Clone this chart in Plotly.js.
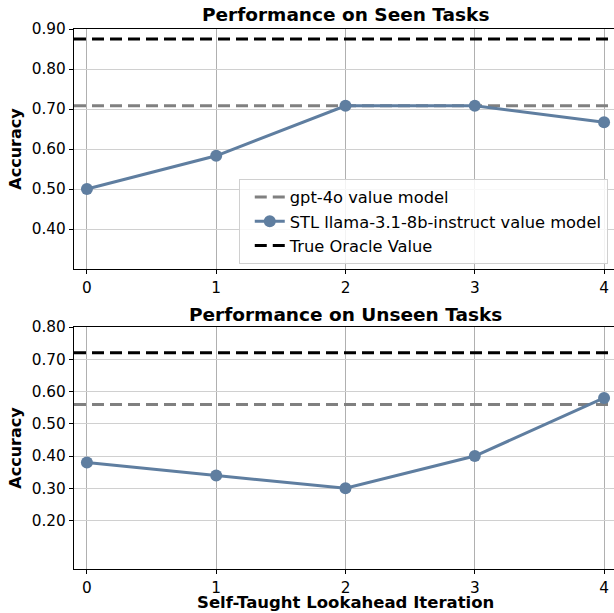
<!DOCTYPE html>
<html><head><meta charset="utf-8">
<script src="https://cdn.plot.ly/plotly-3.0.1.min.js"></script>
<style>html,body{margin:0;padding:0;overflow:hidden;width:614px;height:613px;background:#fff}</style>
</head><body><div id="chart"></div>
<script>
const iterations = [0, 1, 2, 3, 4];
const seenSTL = [0.500, 0.583, 0.708, 0.708, 0.667];
const seenGPT = 0.708;
const seenOracle = 0.875;
const unseenSTL = [0.38, 0.34, 0.30, 0.40, 0.58];
const unseenGPT = 0.56;
const unseenOracle = 0.72;
const xRange = [-0.1, 4.1];
const seenTicks = [0.4, 0.5, 0.6, 0.7, 0.8, 0.9];
const unseenTicks = [0.2, 0.3, 0.4, 0.5, 0.6, 0.7, 0.8];

const FONT = 'DejaVu Sans';
const BLUE = '#5f7ea0';
const GRAY = '#808080';

function hline(val, color, name, xa, ya, show) {
  return {x: xRange, y: [val, val], xaxis: xa, yaxis: ya, mode: 'lines', name: name,
    showlegend: show, legendgroup: name, line: {color: color, width: 3, dash: '12px,6px'}, hoverinfo: 'skip'};
}
function stl(vals, xa, ya, show) {
  return {x: iterations, y: vals, xaxis: xa, yaxis: ya, mode: 'lines+markers',
    name: 'STL llama-3.1-8b-instruct value model', legendgroup: 'stl', showlegend: show,
    line: {color: BLUE, width: 3}, marker: {color: BLUE, size: 12}};
}
const data = [
  hline(seenGPT, GRAY, 'gpt-4o value model', 'x', 'y', true),
  stl(seenSTL, 'x', 'y', true),
  hline(seenOracle, '#000', 'True Oracle Value', 'x', 'y', true),
  hline(unseenGPT, GRAY, 'gpt-4o value model', 'x2', 'y2', false),
  stl(unseenSTL, 'x2', 'y2', false),
  hline(unseenOracle, '#000', 'True Oracle Value', 'x2', 'y2', false)
];

const H = 613;
const boldFont = (s) => ({family: FONT, size: s, color: '#000', weight: 'bold'});
function ax(extra) {
  return Object.assign({showline: true, linecolor: '#000', linewidth: 1.2, mirror: true,
    ticks: 'outside', ticklen: 4, tickwidth: 1, tickcolor: '#000',
    tickfont: {family: FONT, size: 15.3, color: '#000'}, zeroline: false, showgrid: true}, extra);
}
const layout = {
  width: 617, height: H,
  margin: {l: 74, r: 0, t: 0, b: 0},
  paper_bgcolor: '#fff', plot_bgcolor: '#fff',
  font: {family: FONT, color: '#000'},
  showlegend: true,
  xaxis: ax({range: xRange, tickvals: iterations, gridcolor: '#b0b0b0', anchor: 'y', domain: [0, 1]}),
  yaxis: ax({range: [0.30, 0.90], tickvals: seenTicks, tickformat: '.2f', gridcolor: '#d0d0d0',
    domain: [1 - 269 / H, 1 - 29 / H], anchor: 'x',
    title: {text: 'Accuracy', font: boldFont(16), standoff: 6}}),
  xaxis2: ax({range: xRange, tickvals: iterations, gridcolor: '#b0b0b0', anchor: 'y2', domain: [0, 1]}),
  yaxis2: ax({range: [0.05, 0.80], tickvals: unseenTicks, tickformat: '.2f', gridcolor: '#d0d0d0',
    domain: [1 - 569 / H, 1 - 327 / H], anchor: 'x2',
    title: {text: 'Accuracy', font: boldFont(16), standoff: 6}}),
  legend: {x: 0.983, y: 1 - 264 / H, xanchor: 'right', yanchor: 'bottom', indentation: 10,
    bgcolor: 'rgba(255,255,255,0.85)', bordercolor: '#d0d0d0', borderwidth: 1,
    font: {family: FONT, size: 16.3, color: '#000'}, traceorder: 'normal'},
  annotations: [
    {text: 'Performance on Seen Tasks', xref: 'paper', yref: 'paper', x: 0.5, y: 1 - 14 / H,
     xanchor: 'center', yanchor: 'middle', showarrow: false, font: boldFont(18.5)},
    {text: 'Performance on Unseen Tasks', xref: 'paper', yref: 'paper', x: 0.5, y: 1 - 314 / H,
     xanchor: 'center', yanchor: 'middle', showarrow: false, font: boldFont(18.5)},
    {text: 'Self-Taught Lookahead Iteration', xref: 'paper', yref: 'paper', x: 0.5, y: 0,
     xanchor: 'center', yanchor: 'bottom', showarrow: false, borderpad: 0, font: boldFont(16.5)}
  ]
};
Plotly.newPlot('chart', data, layout, {displayModeBar: false, staticPlot: true});
</script></body></html>
